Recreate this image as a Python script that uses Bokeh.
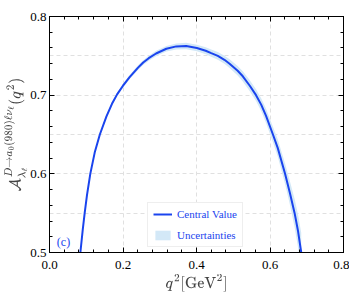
from bokeh.plotting import figure
from bokeh.models import (LinearAxis, SingleIntervalTicker, FixedTicker, Range1d,
                          Legend, LegendItem, Label, PrintfTickFormatter)
from bokeh.embed import file_html
from bokeh.resources import INLINE

# data
q2 = [0.084, 0.0905, 0.0957, 0.102, 0.111, 0.123, 0.137, 0.155, 0.170, 0.184,
      0.200, 0.218, 0.241, 0.255, 0.270, 0.290, 0.318, 0.345, 0.372, 0.401,
      0.425, 0.440, 0.458, 0.476, 0.490, 0.512, 0.526, 0.545, 0.562, 0.576,
      0.589, 0.608, 0.621, 0.641, 0.654, 0.667, 0.676, 0.685]
central = [0.500, 0.529, 0.550, 0.573, 0.600, 0.627, 0.650, 0.673, 0.689, 0.701,
           0.712, 0.723, 0.735, 0.7415, 0.747, 0.753, 0.759, 0.762, 0.7625, 0.760,
           0.7565, 0.7535, 0.750, 0.745, 0.740, 0.731, 0.724, 0.712, 0.700, 0.688,
           0.674, 0.650, 0.633, 0.600, 0.576, 0.550, 0.528, 0.500]
unc = [0.0005, 0.0005, 0.0008, 0.001, 0.001, 0.0012, 0.0015, 0.0018, 0.002, 0.0022,
       0.0025, 0.0027, 0.003, 0.003, 0.0032, 0.0034, 0.0036, 0.0038, 0.004, 0.0042,
       0.0045, 0.0047, 0.005, 0.0052, 0.0055, 0.006, 0.0065, 0.007, 0.0075, 0.008,
       0.009, 0.010, 0.011, 0.013, 0.015, 0.018, 0.021, 0.025]

lower = [c - u for c, u in zip(central, unc)]
upper = [c + u for c, u in zip(central, unc)]

BLUE = "#1a44ee"
BAND = "#d3e8f7"
FONT = "Times New Roman"

p = figure(width=349, height=299, output_backend="svg", toolbar_location=None,
           x_range=Range1d(0.0, 0.8), y_range=Range1d(0.5, 0.8),
           min_border_left=48, min_border_right=6, min_border_top=16,
           min_border_bottom=47)
p.background_fill_color = "white"
p.border_fill_color = "white"
p.outline_line_color = "black"
p.outline_line_width = 1

band = p.varea(x=q2, y1=lower, y2=upper, fill_color=BAND, fill_alpha=1.0)
line = p.line(x=q2, y=central, line_color=BLUE, line_width=2)

def style_axis(ax, labels=True):
    ax.axis_line_color = "black"
    ax.major_tick_in = 5
    ax.major_tick_out = 0
    ax.minor_tick_in = 3
    ax.minor_tick_out = 0
    ax.major_tick_line_color = "black"
    ax.minor_tick_line_color = "black"
    ax.formatter = PrintfTickFormatter(format="%.1f")
    if labels:
        ax.major_label_text_font = FONT
        ax.major_label_text_font_size = "13px"
        ax.major_label_text_color = "black"
    else:
        ax.major_label_text_color = None

p.xaxis.ticker = SingleIntervalTicker(interval=0.2, num_minor_ticks=5)
p.yaxis.ticker = SingleIntervalTicker(interval=0.1, num_minor_ticks=5)
style_axis(p.xaxis[0])
style_axis(p.yaxis[0])
p.xaxis.major_label_standoff = 8
p.yaxis.major_label_standoff = 3
p.xaxis.axis_label = r"$$q^2[\mathrm{GeV}^2]$$"
p.yaxis.axis_label = r"$$\mathcal{A}_{\lambda_\ell}^{D\to a_0(980)\ell\nu_\ell}(q^2)$$"
p.xaxis.axis_label_text_font_size = "13px"
p.yaxis.axis_label_text_font_size = "13px"
p.xaxis.axis_label_standoff = 2
p.yaxis.axis_label_standoff = 0

ax_r = LinearAxis(ticker=SingleIntervalTicker(interval=0.1, num_minor_ticks=5))
style_axis(ax_r, labels=False)
p.add_layout(ax_r, "right")
ax_t = LinearAxis(ticker=SingleIntervalTicker(interval=0.2, num_minor_ticks=5))
style_axis(ax_t, labels=False)
p.add_layout(ax_t, "above")

p.xgrid.ticker = FixedTicker(ticks=[0.2, 0.4, 0.6])
p.ygrid.ticker = FixedTicker(ticks=[0.55, 0.6, 0.65, 0.7, 0.75])
for g in (p.xgrid[0], p.ygrid[0]):
    g.grid_line_color = "#e0e0e0"
    g.grid_line_dash = "4 3"
    g.grid_line_width = 1

legend = Legend(items=[LegendItem(label="Central Value", renderers=[line]),
                       LegendItem(label="Uncertainties", renderers=[band])],
                location=(98, 5))
legend.label_text_font = FONT
legend.label_text_font_size = "11px"
legend.label_text_color = BLUE
legend.border_line_color = "#dddddd"
legend.border_line_width = 1
legend.background_fill_alpha = 1.0
legend.glyph_width = 19
legend.glyph_height = 12
legend.spacing = 9
legend.padding = 5
legend.margin = 0
legend.label_standoff = 5
p.add_layout(legend)

p.add_layout(Label(x=0.02, y=0.505, text="(c)", text_font=FONT,
                   text_font_size="12px", text_color=BLUE))

open("out.html", "w").write(file_html(p, INLINE))
